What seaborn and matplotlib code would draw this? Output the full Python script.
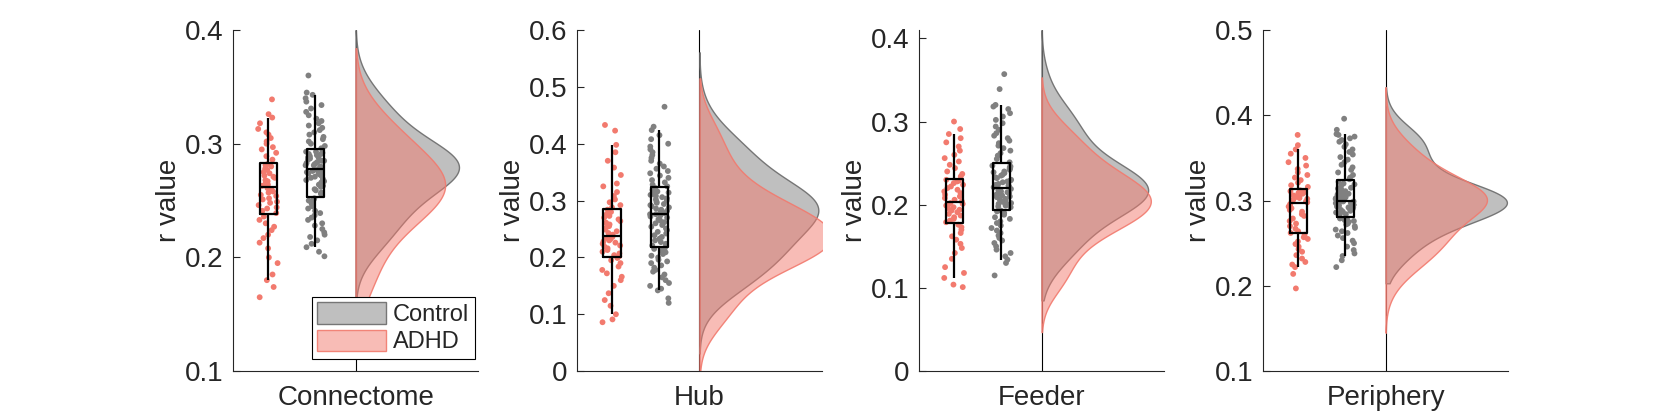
import numpy as np
import pandas as pd
import matplotlib
matplotlib.use("Agg")
import matplotlib.pyplot as plt
import seaborn as sns
from matplotlib.patches import Patch
from matplotlib.ticker import FuncFormatter, MultipleLocator
from matplotlib.colors import to_rgba

# ---------------- data ----------------
panels = ["Connectome", "Hub", "Feeder", "Periphery"]
group_names = ["ADHD", "Control"]

connectome_adhd = [0.165, 0.174, 0.180, 0.185, 0.195, 0.200, 0.208, 0.213, 0.217, 0.220, 0.224, 0.227,
                   0.230, 0.233, 0.236, 0.239, 0.241, 0.243, 0.244, 0.246, 0.248, 0.249, 0.251, 0.252,
                   0.254, 0.255, 0.257, 0.258, 0.260, 0.261, 0.263, 0.264, 0.265, 0.267, 0.268, 0.270,
                   0.271, 0.272, 0.274, 0.275, 0.277, 0.278, 0.280, 0.281, 0.282, 0.286, 0.289, 0.292,
                   0.295, 0.297, 0.300, 0.302, 0.305, 0.308, 0.310, 0.313, 0.318, 0.323, 0.326, 0.339]
connectome_control = [0.201, 0.205, 0.209, 0.212, 0.215, 0.218, 0.220, 0.222, 0.225, 0.228, 0.230, 0.233,
                      0.235, 0.237, 0.239, 0.241, 0.243, 0.245, 0.247, 0.248, 0.250, 0.251, 0.252, 0.256,
                      0.257, 0.259, 0.260, 0.262, 0.263, 0.264, 0.266, 0.267, 0.268, 0.269, 0.270, 0.271,
                      0.272, 0.273, 0.274, 0.274, 0.275, 0.276, 0.276, 0.277, 0.277, 0.279, 0.279, 0.280,
                      0.281, 0.281, 0.282, 0.283, 0.283, 0.284, 0.285, 0.285, 0.286, 0.287, 0.288, 0.288,
                      0.289, 0.290, 0.291, 0.291, 0.292, 0.293, 0.293, 0.296, 0.298, 0.300, 0.302, 0.304,
                      0.306, 0.308, 0.310, 0.312, 0.314, 0.316, 0.318, 0.320, 0.322, 0.325, 0.328, 0.331,
                      0.334, 0.337, 0.340, 0.343, 0.345, 0.360]

hub_adhd = [0.086, 0.091, 0.100, 0.115, 0.125, 0.137, 0.150, 0.160, 0.166, 0.172, 0.178, 0.184,
            0.190, 0.195, 0.199, 0.202, 0.204, 0.207, 0.210, 0.213, 0.216, 0.219, 0.221, 0.224,
            0.226, 0.228, 0.230, 0.232, 0.234, 0.236, 0.240, 0.243, 0.246, 0.249, 0.252, 0.255,
            0.258, 0.261, 0.264, 0.267, 0.270, 0.273, 0.276, 0.280, 0.284, 0.288, 0.292, 0.297,
            0.302, 0.308, 0.315, 0.325, 0.330, 0.345, 0.358, 0.370, 0.385, 0.398, 0.423, 0.433]
hub_control = [0.120, 0.128, 0.142, 0.145, 0.150, 0.155, 0.160, 0.165, 0.170, 0.175, 0.178, 0.182,
               0.186, 0.190, 0.193, 0.196, 0.200, 0.203, 0.206, 0.209, 0.212, 0.215, 0.217, 0.221,
               0.224, 0.227, 0.230, 0.233, 0.236, 0.239, 0.242, 0.245, 0.248, 0.251, 0.254, 0.257,
               0.260, 0.262, 0.265, 0.267, 0.270, 0.272, 0.274, 0.276, 0.276, 0.278, 0.280, 0.282,
               0.284, 0.286, 0.288, 0.290, 0.292, 0.294, 0.296, 0.298, 0.300, 0.302, 0.304, 0.306,
               0.308, 0.310, 0.312, 0.314, 0.316, 0.319, 0.322, 0.325, 0.328, 0.332, 0.336, 0.340,
               0.344, 0.348, 0.352, 0.356, 0.360, 0.365, 0.370, 0.375, 0.380, 0.385, 0.390, 0.395,
               0.400, 0.408, 0.415, 0.424, 0.430, 0.465]

feeder_adhd = [0.101, 0.104, 0.112, 0.118, 0.125, 0.135, 0.142, 0.148, 0.153, 0.158, 0.162, 0.166,
               0.170, 0.173, 0.176, 0.179, 0.181, 0.183, 0.185, 0.187, 0.189, 0.191, 0.193, 0.194,
               0.196, 0.197, 0.199, 0.200, 0.201, 0.202, 0.204, 0.206, 0.208, 0.210, 0.212, 0.214,
               0.216, 0.218, 0.220, 0.222, 0.224, 0.226, 0.228, 0.229, 0.230, 0.234, 0.237, 0.240,
               0.244, 0.248, 0.252, 0.256, 0.260, 0.265, 0.270, 0.275, 0.280, 0.285, 0.291, 0.300]
feeder_control = [0.115, 0.130, 0.134, 0.138, 0.142, 0.146, 0.150, 0.154, 0.157, 0.160, 0.163, 0.166,
                  0.169, 0.172, 0.175, 0.178, 0.180, 0.183, 0.185, 0.188, 0.190, 0.192, 0.193, 0.197,
                  0.198, 0.199, 0.200, 0.201, 0.202, 0.203, 0.204, 0.205, 0.206, 0.207, 0.209, 0.210,
                  0.211, 0.212, 0.213, 0.214, 0.215, 0.216, 0.217, 0.219, 0.219, 0.221, 0.222, 0.223,
                  0.224, 0.225, 0.227, 0.228, 0.229, 0.230, 0.232, 0.233, 0.235, 0.236, 0.238, 0.239,
                  0.240, 0.242, 0.243, 0.244, 0.245, 0.246, 0.247, 0.251, 0.255, 0.259, 0.262, 0.265,
                  0.268, 0.271, 0.274, 0.277, 0.280, 0.283, 0.286, 0.290, 0.294, 0.298, 0.302, 0.306,
                  0.310, 0.315, 0.318, 0.320, 0.339, 0.357]

periphery_adhd = [0.197, 0.214, 0.222, 0.225, 0.228, 0.232, 0.236, 0.240, 0.243, 0.246, 0.249, 0.252,
                  0.255, 0.257, 0.260, 0.262, 0.264, 0.267, 0.270, 0.273, 0.276, 0.279, 0.282, 0.284,
                  0.287, 0.289, 0.291, 0.293, 0.295, 0.296, 0.298, 0.299, 0.300, 0.301, 0.302, 0.303,
                  0.304, 0.305, 0.306, 0.307, 0.308, 0.309, 0.310, 0.311, 0.312, 0.316, 0.318, 0.321,
                  0.324, 0.327, 0.330, 0.333, 0.337, 0.341, 0.345, 0.350, 0.355, 0.360, 0.365, 0.377]
periphery_control = [0.222, 0.230, 0.235, 0.238, 0.242, 0.246, 0.250, 0.253, 0.256, 0.259, 0.262, 0.264,
                     0.266, 0.268, 0.270, 0.272, 0.273, 0.275, 0.276, 0.277, 0.278, 0.279, 0.280, 0.284,
                     0.285, 0.286, 0.287, 0.288, 0.289, 0.290, 0.291, 0.292, 0.292, 0.293, 0.294, 0.295,
                     0.295, 0.296, 0.297, 0.297, 0.298, 0.298, 0.299, 0.299, 0.299, 0.301, 0.301, 0.302,
                     0.302, 0.303, 0.304, 0.304, 0.305, 0.306, 0.307, 0.308, 0.309, 0.310, 0.311, 0.312,
                     0.313, 0.314, 0.315, 0.317, 0.319, 0.320, 0.322, 0.325, 0.327, 0.330, 0.333, 0.336,
                     0.339, 0.342, 0.345, 0.348, 0.351, 0.354, 0.357, 0.360, 0.363, 0.366, 0.369, 0.371,
                     0.373, 0.375, 0.377, 0.378, 0.383, 0.396]

adhd_values = [connectome_adhd, hub_adhd, feeder_adhd, periphery_adhd]
control_values = [connectome_control, hub_control, feeder_control, periphery_control]

y_limits = [(0.1, 0.4), (0.0, 0.6), (0.0, 0.41), (0.1, 0.5)]
kde_span_adhd = [(0.13, 0.384), (0.0, 0.515), (0.047, 0.353), (0.145, 0.433)]
kde_span_control = [(0.165, 0.40), (0.031, 0.561), (0.085, 0.41), (0.203, 0.433)]

# ---------------- style / layout ----------------
ADHD_COLOR = (0.95, 0.48, 0.43)
CONTROL_COLOR = (0.5, 0.5, 0.5)
CONTROL_EDGE = (0.42, 0.42, 0.42)
TEXT = (0.15, 0.15, 0.15)
FS = 20
peak_frac = [0.844, 0.97, 0.87, 0.99]   # how far the Control density peak reaches (axes half-width)
bw_adj = [1.3, 1.1, 1.1, 1.15]
lefts = [0.1398, 0.3461, 0.5513, 0.7577]

sns.set_style("ticks")
plt.rcParams["font.family"] = ["Liberation Sans", "DejaVu Sans"]
plt.rcParams["text.color"] = TEXT
plt.rcParams["axes.labelcolor"] = TEXT
plt.rcParams["xtick.color"] = TEXT
plt.rcParams["ytick.color"] = TEXT

fig = plt.figure(figsize=(16.67, 4.17), dpi=100)
np.random.seed(7)

for i, name in enumerate(panels):
    ax = fig.add_axes([lefts[i], 0.110, 0.147, 0.818])
    adhd = adhd_values[i]
    ctrl = control_values[i]

    # half-violins (densities) on the right of the baseline x=0
    sns.kdeplot(y=ctrl, ax=ax, fill=True, color=CONTROL_COLOR, alpha=0.5,
                edgecolor=to_rgba(CONTROL_EDGE, 0.9), linewidth=1.0, bw_adjust=bw_adj[i],
                cut=10, clip=kde_span_control[i], zorder=2)
    peak = ax.collections[-1].get_paths()[0].vertices[:, 0].max()
    sns.kdeplot(y=adhd, ax=ax, fill=True, color=ADHD_COLOR, alpha=0.5,
                edgecolor=to_rgba(ADHD_COLOR, 0.9), linewidth=1.0, bw_adjust=bw_adj[i],
                cut=10, clip=kde_span_adhd[i], zorder=2.1)
    L = peak / peak_frac[i]

    ax.axvline(0, color="black", lw=0.8, zorder=1)

    pos_adhd, pos_ctrl = -0.714 * L, -0.328 * L
    df = pd.DataFrame({
        "group": ["ADHD"] * len(adhd) + ["Control"] * len(ctrl),
        "r": adhd + ctrl,
        "pos": [pos_adhd] * len(adhd) + [pos_ctrl] * len(ctrl),
    })

    sns.stripplot(data=df, x="pos", y="r", hue="group", hue_order=group_names,
                  palette={"ADHD": ADHD_COLOR, "Control": CONTROL_COLOR},
                  native_scale=True, jitter=0.21, size=4.2, linewidth=0,
                  legend=False, ax=ax, zorder=2)
    sns.boxplot(data=df, x="pos", y="r", native_scale=True, width=0.36,
                fill=False, color="black", linecolor="black", linewidth=1.6,
                whis=(2, 98), showfliers=False, showcaps=False, ax=ax,
                boxprops={"zorder": 4}, whiskerprops={"zorder": 4},
                medianprops={"zorder": 4})

    ax.set_xlim(-L, L)
    ax.set_ylim(*y_limits[i])
    ax.yaxis.set_major_locator(MultipleLocator(0.1))
    ax.yaxis.set_major_formatter(FuncFormatter(lambda v, p: f"{round(v, 2):g}"))
    ax.set_xticks([0])
    ax.set_xticklabels([name])
    ax.set_xlabel("")
    ax.set_ylabel("r value", fontsize=FS, labelpad=2)
    ax.tick_params(axis="both", direction="in", length=5, width=0.8, labelsize=FS)
    ax.tick_params(axis="y", pad=7)
    ax.tick_params(axis="x", pad=10, length=0)
    for s in ["top", "right"]:
        ax.spines[s].set_visible(False)
    for s in ["left", "bottom"]:
        ax.spines[s].set_color(TEXT)
        ax.spines[s].set_linewidth(0.8)

    if i == 0:
        handles = [Patch(facecolor=to_rgba(CONTROL_COLOR, 0.5), edgecolor=to_rgba(CONTROL_EDGE, 0.9), lw=1.0),
                   Patch(facecolor=to_rgba(ADHD_COLOR, 0.5), edgecolor=to_rgba(ADHD_COLOR, 0.9), lw=1.0)]
        leg = ax.legend(handles, ["Control", "ADHD"], loc="lower right",
                        bbox_to_anchor=(0.988, 0.035), borderaxespad=0,
                        fontsize=17, frameon=True, fancybox=False, framealpha=1,
                        edgecolor="black", handlelength=2.9, handleheight=1.0,
                        labelspacing=0.15, borderpad=0.25, handletextpad=0.3)
        leg.get_frame().set_linewidth(0.8)
        leg.set_zorder(10)

fig.savefig("out.png", dpi=100)
